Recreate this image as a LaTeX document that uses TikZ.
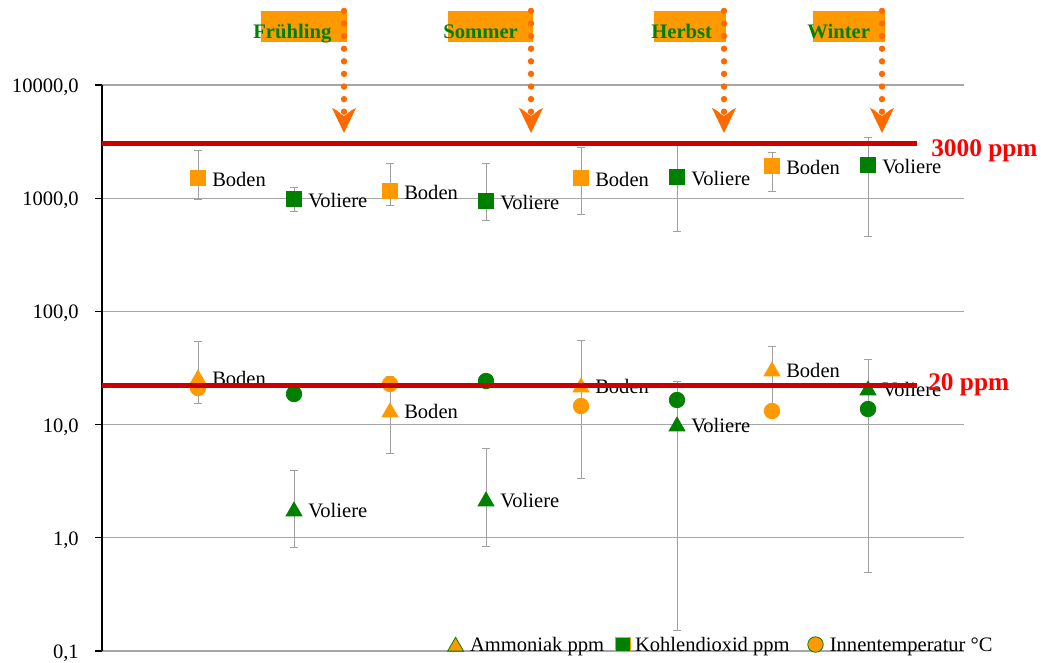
\documentclass[tikz,border=0pt]{standalone}
\usepackage{fontspec}
\setmainfont{Liberation Serif}
\usetikzlibrary{shapes.geometric}
\definecolor{xorange}{HTML}{FF9900}
\definecolor{xgreen}{HTML}{008000}
\definecolor{gridgray}{HTML}{A6A6A6}
\definecolor{bargray}{HTML}{A0A0A0}
\definecolor{limitred}{HTML}{CC0000}
\definecolor{labelred}{HTML}{FF0000}
\definecolor{arroworange}{HTML}{FF6A00}
\begin{document}
\begin{tikzpicture}[x=0.75pt,y=-0.75pt,
  gridline/.style={draw=gridgray,line width=0.9pt},
  errbar/.style={draw=bargray,line width=0.75pt},
  sqmark/.style={rectangle,inner sep=0pt,minimum size=11pt,line width=0.6pt},
  circmark/.style={circle,inner sep=0pt,minimum size=11.6pt,line width=0.6pt},
  trimark/.style={regular polygon,regular polygon sides=3,inner sep=0pt,minimum size=13.8pt,line width=0.6pt},
  orangemark/.style={fill=xorange,draw=xorange},
  greenmark/.style={fill=xgreen,draw=xgreen},
  datalabel/.style={anchor=base west,inner sep=0pt,font=\fontsize{15.4}{18}\selectfont},
  axislabel/.style={anchor=base east,inner sep=0pt,font=\fontsize{15.4}{18}\selectfont},
  limitlabel/.style={anchor=base west,inner sep=0pt,text=labelred,font=\fontsize{19}{22}\selectfont\bfseries},
  seasontext/.style={anchor=base west,inner sep=0pt,text=xgreen,font=\fontsize{15.5}{18}\selectfont\bfseries},
  limitline/.style={draw=limitred,line width=3.3pt},
  ]
\useasboundingbox (0,0) rectangle (1041,662);

% grid and axis
\foreach \g [count=\i] in {85,198.2,311.4,424.6,537.8,651}{
  \draw[gridline] (102,\g) -- (964,\g);
  \draw[black,line width=0.9pt] (95,\g) -- (102,\g);
}
\draw[black,line width=0.9pt] (102,85) -- (102,651);
\foreach \g/\t in {85/{10000,0},198.2/{1000,0},311.4/{100,0},424.6/{10,0},537.8/{1,0},651/{0,1}}{
  \node[axislabel] at (79,\g+7.5) {\t};
}

% error bars
\foreach \x/\t/\b in {198/150/199,294/187/211,390/163/205,486/163/220,581/147/214,677/145/231,772/152/191,868/137/236,
  198/341/403,294/470/547,390/376/453,486/448/546,581/340/478,677/381/630,772/346/408,868/359/572}{
  \draw[errbar] (\x,\t) -- (\x,\b) (\x-4,\t) -- (\x+4,\t) (\x-4,\b) -- (\x+4,\b);
}

% CO2 squares
\foreach \i/\x/\y/\c/\lab in {1/198/178/orangemark/Boden,2/294/199/greenmark/Voliere,3/390/191/orangemark/Boden,4/486/201/greenmark/Voliere,
  5/581/178/orangemark/Boden,6/677/177/greenmark/Voliere,7/772/166/orangemark/Boden,8/868/165/greenmark/Voliere}{
  \node[sqmark,\c] (co\i) at (\x,\y) {};
  \node[datalabel] (colab\i) at (\x+14,\y+8.5) {\lab};
}

% temperature circles
\foreach \i/\x/\y/\c in {1/198/388/orangemark,2/294/394/greenmark,3/390/384/orangemark,4/486/381/greenmark,
  5/581/406/orangemark,6/677/400/greenmark,7/772/411/orangemark,8/868/409/greenmark}{
  \node[circmark,\c] (tp\i) at (\x,\y) {};
}

% ammonia triangles
\foreach \i/\x/\y/\c/\lab in {1/198/377/orangemark/Boden,2/294/509/greenmark/Voliere,3/390/410/orangemark/Boden,4/486/499/greenmark/Voliere,
  5/581/385/orangemark/Boden,6/677/424/greenmark/Voliere,7/772/369/orangemark/Boden,8/868/388/greenmark/Voliere}{
  \node[trimark,\c] (nh\i) at (\x,\y+2.3) {};
  \node[datalabel] (nhlab\i) at (\x+14,\y+8.3) {\lab};
}

% limit lines
\draw[limitline] (102,143.5) -- (917,143.5);
\draw[limitline] (102,385.5) -- (917,385.5);
\node[limitlabel] (l3000) at (931,156) {3000 ppm};
\node[limitlabel] (l20) at (928,390) {20 ppm};

% seasons
\foreach \i/\bl/\br/\tx/\dx/\name in {1/261/347/253/344/Frühling,2/448/533/443/531/Sommer,3/654/726/651/724/Herbst,4/813/885/807/882/Winter}{
  \fill[xorange] (\bl,11) rectangle (\br,42);
  \node[seasontext] (season\i) at (\tx,38) {\name};
  \foreach \k in {0,...,8}{
    \fill[arroworange] (\dx,111.7-12.6*\k) circle[radius=2.4pt];
  }
  \fill[arroworange] (\dx,133) -- (\dx-12,108) .. controls (\dx-6,110) and (\dx-3,115) .. (\dx,116)
     .. controls (\dx+3,115) and (\dx+6,110) .. (\dx+12,108) -- cycle;
}

% legend
\node[trimark,fill=xorange,draw=xgreen] (legtri) at (455.6,646.5) {};
\node[datalabel] (legtxt1) at (469.8,651.5) {Ammoniak ppm};
\node[sqmark,fill=xgreen,draw=xorange] (legsq) at (623,644.5) {};
\node[datalabel] (legtxt2) at (634.8,651.5) {Kohlendioxid ppm};
\node[circmark,fill=xorange,draw=xgreen] (legcirc) at (815.5,644.5) {};
\node[datalabel] (legtxt3) at (829.6,651.5) {Innentemperatur °C};
\end{tikzpicture}
\end{document}
